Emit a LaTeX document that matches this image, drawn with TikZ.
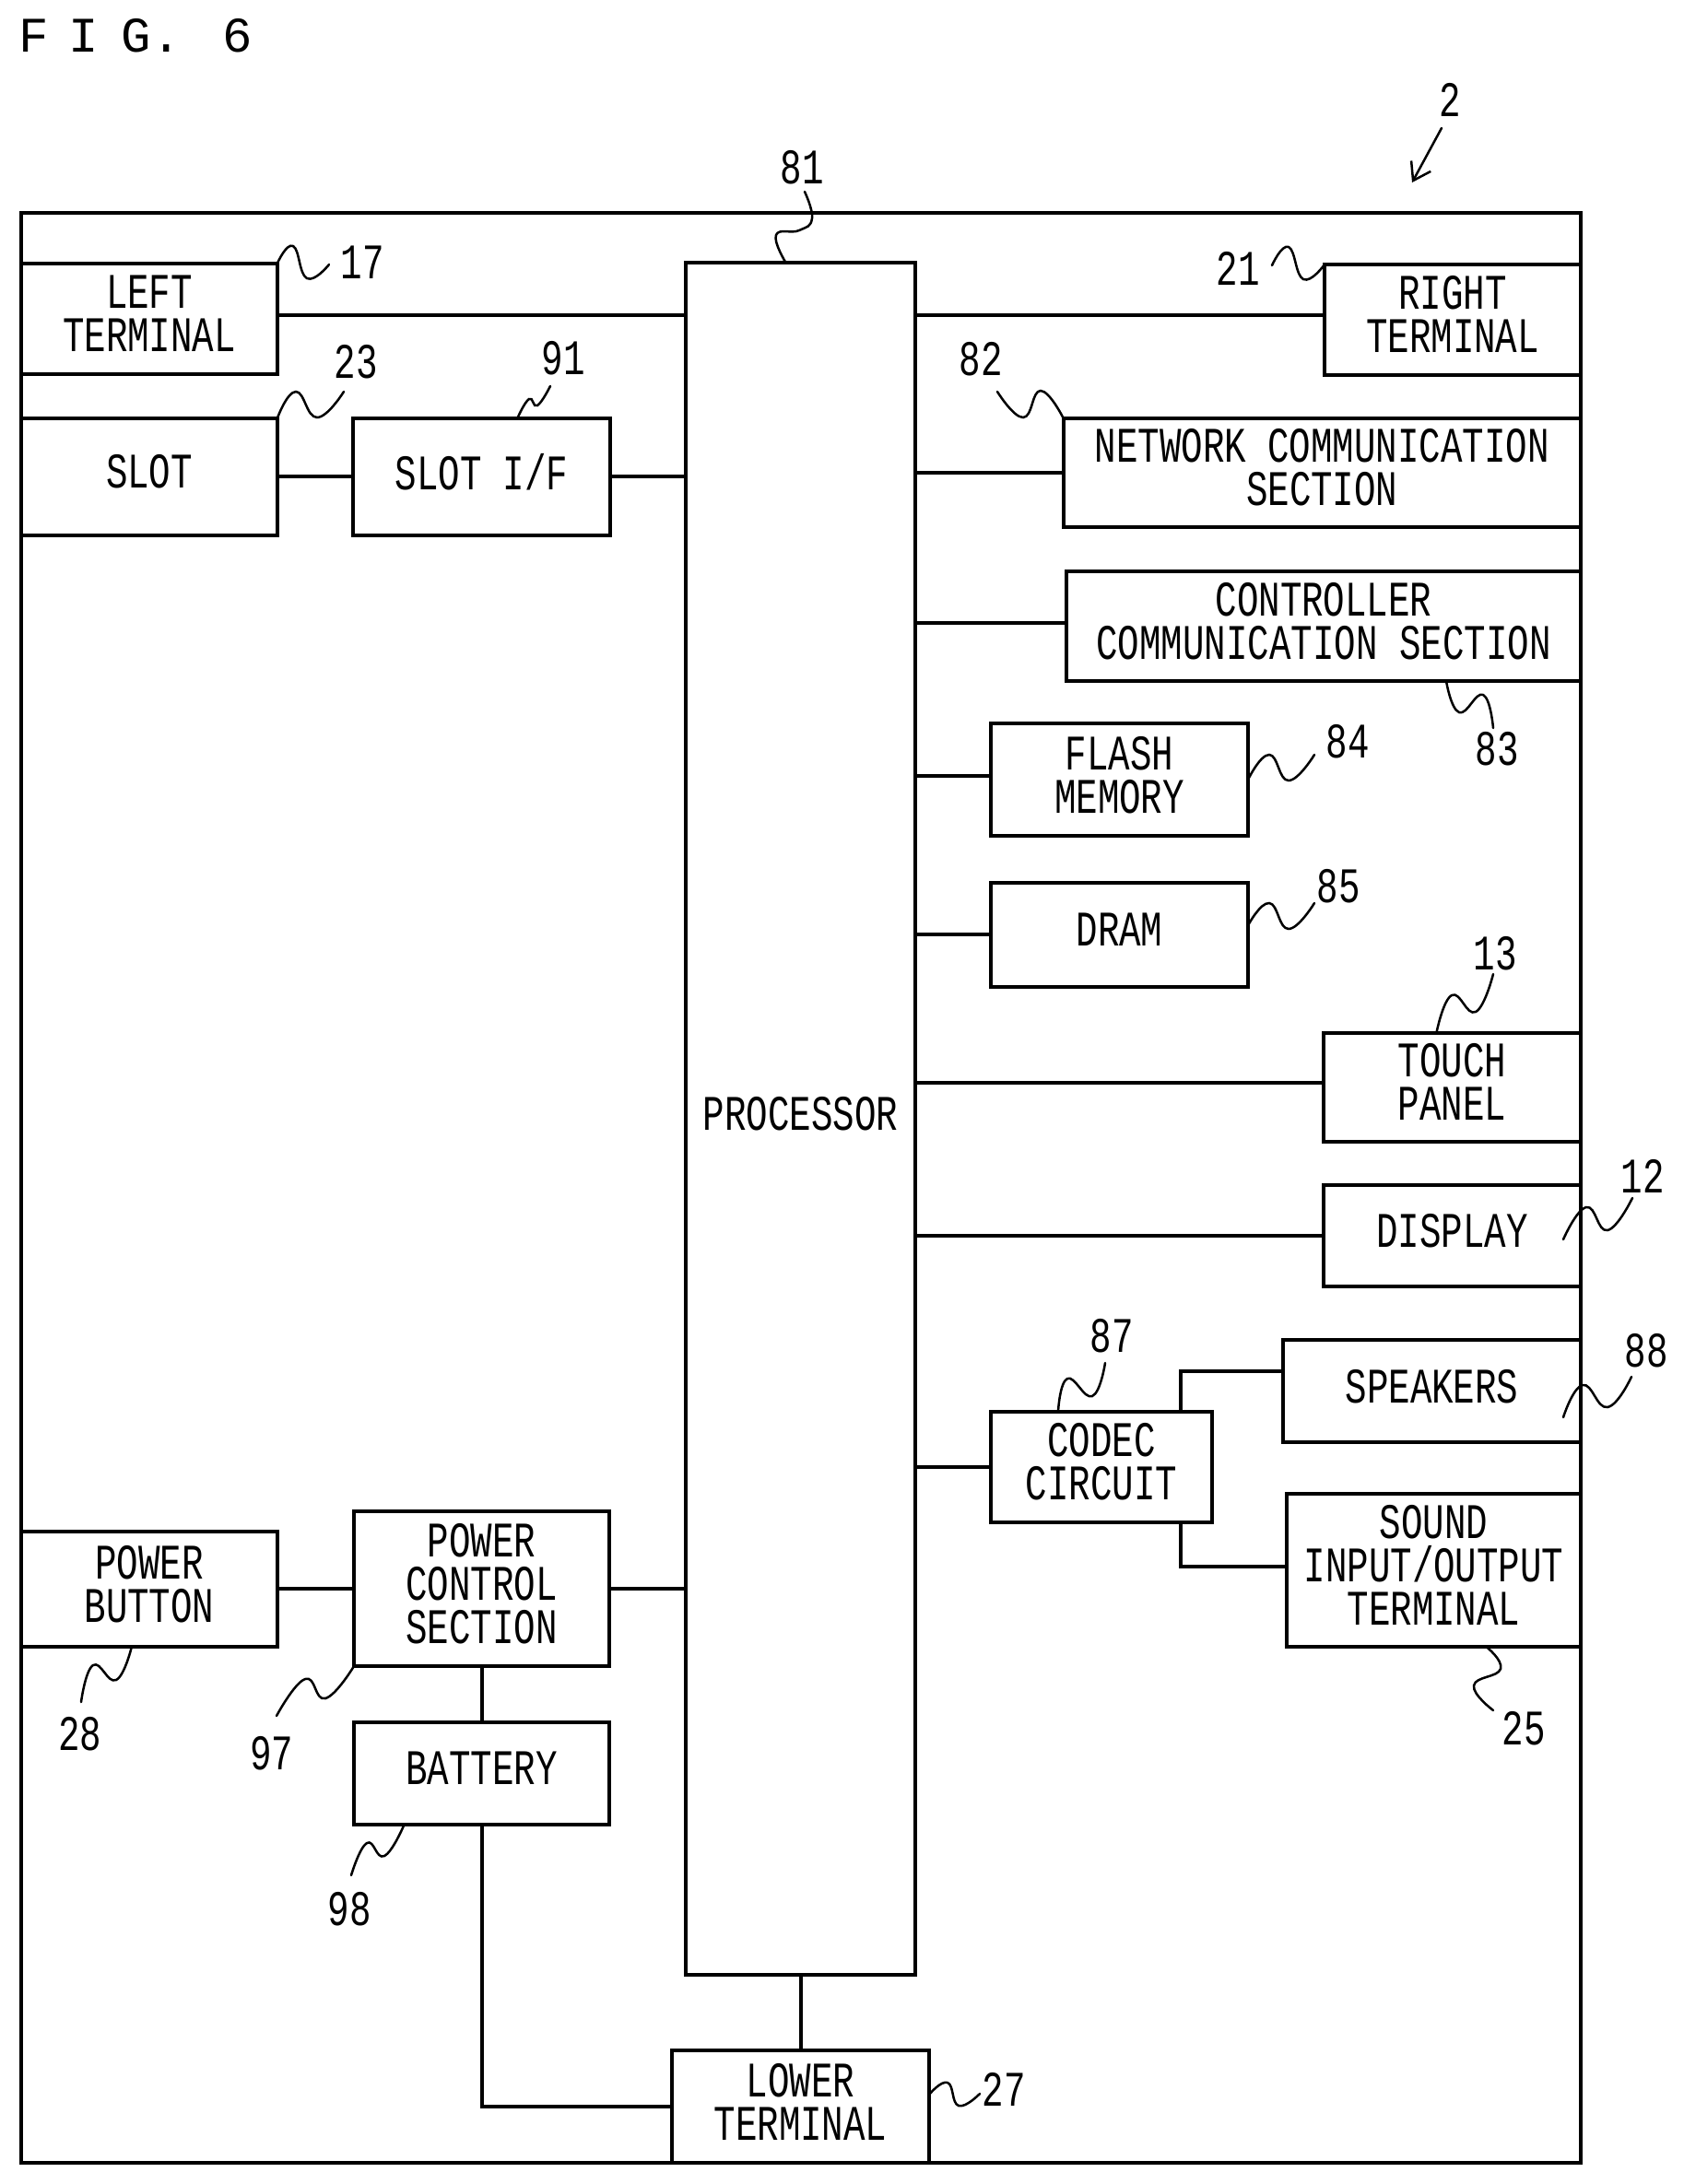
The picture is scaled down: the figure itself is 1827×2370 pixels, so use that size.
\documentclass[tikz,border=0pt]{standalone}
\usepackage{fontspec}
\setmainfont[FakeStretch=0.725]{Liberation Mono}
\newfontfamily\figfont{Liberation Mono}
\usetikzlibrary{positioning, arrows.meta}
\tikzset{
  block/.style={draw, rectangle, line width=4pt, inner sep=0pt, outer sep=0pt, align=center, font=\fontsize{54pt}{47pt}\selectfont, execute at end node={\rule[-11pt]{0pt}{11pt}}},
  wire/.style={line width=4pt},
  leader/.style={line width=2.5pt, line cap=round},
  reflabel/.style={inner sep=0pt, font=\fontsize{54pt}{47pt}\selectfont}
}

\begin{document}
\begin{tikzpicture}[x=1pt, y=1pt]

    \useasboundingbox (0,0) rectangle (1827,-2370);

    % Title and overall reference
    \node[anchor=west, inner sep=0pt, font=\figfont\fontsize{54pt}{54pt}\selectfont] (title) at (20,-39) {F \kern-10pt I \kern-8pt G. \kern12pt 6};
    \node[reflabel] (n2) at (1573,-108) {2};
    \coordinate (e2) at (1532,-198);
    \draw[leader, -{Straight Barb[length=18pt, width=24pt]}] (1564,-139) -- (e2);

    % Housing
    \node[draw, line width=4pt, outer sep=0pt, minimum width=1692pt, minimum height=2116pt, anchor=north west] (device) at (23,-231) {};

    % Left column
    \node[block, minimum width=278pt, minimum height=120.5pt, below right=54.5pt and 0pt of device.north west] (left) {LEFT\\TERMINAL};
    \node[block, minimum width=278pt, minimum height=127.5pt, below=47.5pt of left] (slot) {SLOT};
    \node[block, minimum width=279pt, minimum height=127.5pt, right=82pt of slot] (slotif) {SLOT I/F};
    \node[block, minimum width=278pt, minimum height=124.5pt, below right=1431pt and 0pt of device.north west] (button) {POWER\\BUTTON};
    \node[block, minimum width=277pt, minimum height=167.6pt, right=83pt of button] (control) {POWER\\CONTROL\\SECTION};
    \node[block, minimum width=277pt, minimum height=111pt, below=61pt of control] (battery) {BATTERY};

    % Processor and lower terminal
    \node[block, minimum width=249pt, minimum height=1858pt, anchor=north west] (processor) at (744,-285) {PROCESSOR};
    \node[block, minimum width=279pt, minimum height=122pt, below=82pt of processor] (lower) {LOWER\\TERMINAL};

    % Right column
    \node[block, minimum width=278pt, minimum height=119.5pt, below left=56pt and 0pt of device.north east] (right) {RIGHT\\TERMINAL};
    \node[block, minimum width=561.5pt, minimum height=118pt, below left=47pt and 0pt of right.south east] (network) {NETWORK COMMUNICATION\\SECTION};
    \node[block, minimum width=558pt, minimum height=119pt, below left=48.5pt and 0pt of network.south east] (controller) {CONTROLLER\\COMMUNICATION SECTION};
    \node[block, minimum width=279pt, minimum height=122pt, below right=500pt and 82pt of processor.north east] (flash) {FLASH\\MEMORY};
    \node[block, minimum width=279pt, minimum height=112.5pt, below=51pt of flash] (dram) {DRAM};
    \node[block, minimum width=279pt, minimum height=118.5pt, below left=381.5pt and 0pt of controller.south east] (touch) {TOUCH\\PANEL};
    \node[block, minimum width=279pt, minimum height=110pt, below left=47pt and 0pt of touch.south east] (display) {DISPLAY};
    \node[block, minimum width=323pt, minimum height=111pt, below left=58pt and 0pt of display.south east] (speakers) {SPEAKERS};
    \node[block, minimum width=319pt, minimum height=166pt, below left=56pt and 0pt of speakers.south east] (sound) {SOUND\\INPUT/OUTPUT\\TERMINAL};
    \node[block, minimum width=240pt, minimum height=120pt, below right=461pt and 0pt of dram.south west] (codec) {CODEC\\CIRCUIT};

    % Connections to the processor
    \draw[wire] ([yshift=4pt]left.east) -- ([yshift=4pt]left.east -| processor.west);
    \draw[wire] (slot.east) -- (slotif.west);
    \draw[wire] (slotif.east) -- (slotif.east -| processor.west);
    \draw[wire] (button.east) -- (control.west);
    \draw[wire] (control.east) -- (control.east -| processor.west);
    \draw[wire] (control.south) -- (battery.north);
    \draw[wire] (battery.south) |- (lower.west);
    \draw[wire] (processor.south) -- (processor.south |- lower.north);
    \draw[wire] ([yshift=4.5pt]right.west) -- ([yshift=4.5pt]right.west -| processor.east);
    \draw[wire] (network.west) -- (network.west -| processor.east);
    \draw[wire] ([yshift=4pt]controller.west) -- ([yshift=4pt]controller.west -| processor.east);
    \draw[wire] ([yshift=4pt]flash.west) -- ([yshift=4pt]flash.west -| processor.east);
    \draw[wire] (dram.west) -- (dram.west -| processor.east);
    \draw[wire] ([yshift=5pt]touch.west) -- ([yshift=5pt]touch.west -| processor.east);
    \draw[wire] (display.west) -- (display.west -| processor.east);
    \draw[wire] (codec.west) -- (codec.west -| processor.east);
    \draw[wire] ([xshift=86pt]codec.north) |- ([yshift=22pt]speakers.west);
    \draw[wire] ([xshift=86pt]codec.south) |- ([yshift=4pt]sound.west);

    % Reference numerals
    \node[reflabel] (n17) at (393,-285) {17};
    \node[reflabel] (n23) at (386,-393) {23};
    \node[reflabel] (n91) at (611,-389) {91};
    \node[reflabel] (n81) at (870,-182) {81};
    \node[reflabel] (n21) at (1343,-291) {21};
    \node[reflabel] (n82) at (1064,-390) {82};
    \node[reflabel] (n83) at (1624,-813) {83};
    \node[reflabel] (n84) at (1462,-805) {84};
    \node[reflabel] (n85) at (1452,-962) {85};
    \node[reflabel] (n13) at (1622,-1035) {13};
    \node[reflabel] (n12) at (1782,-1276) {12};
    \node[reflabel] (n87) at (1206,-1450) {87};
    \node[reflabel] (n88) at (1786,-1466) {88};
    \node[reflabel] (n25) at (1653,-1876) {25};
    \node[reflabel] (n28) at (87,-1882) {28};
    \node[reflabel] (n97) at (295,-1903) {97};
    \node[reflabel] (n98) at (379,-2072) {98};
    \node[reflabel] (n27) at (1089,-2267) {27};

    % Free ends of the wavy leaders
    \coordinate (e17) at (357,-287);
    \coordinate (e23) at (373,-425);
    \coordinate (e91) at (597,-419);
    \coordinate (e81) at (873,-208);
    \coordinate (e21) at (1380,-288);
    \coordinate (e82) at (1082,-425);
    \coordinate (e83) at (1620,-790);
    \coordinate (e84) at (1426,-819);
    \coordinate (e85) at (1426,-980);
    \coordinate (e13) at (1620,-1057);
    \coordinate (e12) at (1771,-1300);
    \coordinate (s12) at (1696,-1345);
    \coordinate (e87) at (1199,-1479);
    \coordinate (e88) at (1770,-1494);
    \coordinate (s88) at (1696,-1538);
    \coordinate (e25) at (1620,-1856);
    \coordinate (e28) at (88,-1847);
    \coordinate (e97) at (300,-1862);
    \coordinate (e98) at (381,-2035);
    \coordinate (e27) at (1063,-2272);

    % Wavy leaders
    \draw[leader] plot[smooth, tension=0.8] coordinates {(left.north east) (318,-267) (333,-302) (e17)};
    \draw[leader] plot[smooth, tension=0.8] coordinates {(slot.north east) (321,-425) (344,-453) (e23)};
    \draw[leader] plot[smooth, tension=0.8] coordinates {([xshift=39pt]slotif.north) (574,-433) (583,-440) (e91)};
    \draw[leader] plot[smooth, tension=0.8] coordinates {([xshift=-16pt]processor.north) (842,-255) (867,-250) (881,-237) (e81)};
    \draw[leader] plot[smooth, tension=0.8] coordinates {(right.north west) (1414,-303) (1398,-268) (e21)};
    \draw[leader] plot[smooth, tension=0.8] coordinates {(network.north west) (1129,-424) (1110,-453) (e82)};
    \draw[leader] plot[smooth, tension=0.8] coordinates {([xshift=133pt]controller.south) (1583,-773) (1609,-754) (e83)};
    \draw[leader] plot[smooth, tension=0.8] coordinates {(flash.east) (1377,-819) (1398,-847) (e84)};
    \draw[leader] plot[smooth, tension=0.8] coordinates {([yshift=10pt]dram.east) (1377,-980) (1398,-1008) (e85)};
    \draw[leader] plot[smooth, tension=0.8] coordinates {([xshift=-17pt]touch.north) (1575,-1080) (1601,-1098) (e13)};
    \draw[leader] plot[smooth, tension=0.8] coordinates {(s12) (1721,-1310) (1744,-1335) (e12)};
    \draw[leader] plot[smooth, tension=0.8] coordinates {([xshift=-47pt]codec.north) (1158,-1496) (1185,-1515) (e87)};
    \draw[leader] plot[smooth, tension=0.8] coordinates {(s88) (1717,-1503) (1744,-1527) (e88)};
    \draw[leader] plot[smooth, tension=0.8] coordinates {([xshift=57pt]sound.south) (1628,-1811) (1599,-1829) (e25)};
    \draw[leader] plot[smooth, tension=0.8] coordinates {([xshift=-19pt]button.south) (126,-1823) (101,-1807) (e28)};
    \draw[leader] plot[smooth, tension=0.8] coordinates {(control.south west) (353,-1843) (331,-1822) (e97)};
    \draw[leader] plot[smooth, tension=0.8] coordinates {([xshift=-84pt]battery.south) (417,-2014) (398,-2000) (e98)};
    \draw[leader] plot[smooth, tension=0.8] coordinates {([yshift=13pt]lower.east) (1028,-2260) (1040,-2285) (e27)};

\end{tikzpicture}
\end{document}
